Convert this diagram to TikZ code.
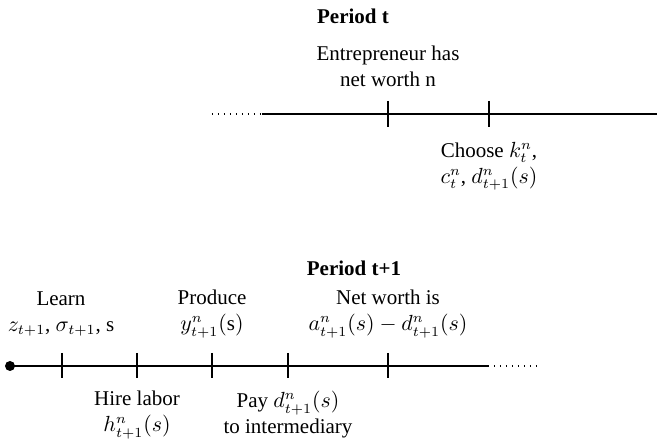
\documentclass[tikz,border=0pt]{standalone}
\usepackage{fontspec}
\setmainfont{Liberation Serif}
\usetikzlibrary{calc}
\begin{document}
\begin{tikzpicture}[x=0.5pt,y=-0.5pt,
  lbl/.style={align=center,inner sep=0pt,font=\fontsize{10.5}{13}\selectfont},
  ttl/.style={inner sep=0pt,font=\fontsize{10.5}{13}\selectfont\bfseries},
  tl/.style={line width=0.75pt},
  tick/.style={line width=0.6pt},
  dots/.style={line width=0.6pt,dash pattern=on 0.6pt off 2.4pt}]
\useasboundingbox (0,0) rectangle (661,442);
% ---- Period t ----
\node[ttl] (pt) at (353,16) {Period t};
\coordinate (a0) at (212,114);
\coordinate (a1) at (262,114);
\coordinate (ta) at (388,114);
\coordinate (tb) at (489,114);
\coordinate (a2) at (656,114);
\coordinate (a3) at (668,114);
\draw[dots] (a0) -- (a1);
\draw[tl] (a1) -- (a2);
\draw[dots] (a2) -- (a3);
\foreach \c in {ta,tb} \draw[tick] ($(\c)+(0,-13)$) -- ($(\c)+(0,13)$);
\node[lbl] (en) at (388,66) {Entrepreneur has\\net worth n};
\node[lbl] (ch) at (489,166) {Choose $k_t^n$,\\$c_t^n$, $d_{t+1}^n(s)$};
% ---- Period t+1 ----
\node[ttl] (pt1) at (354,268) {Period t+1};
\coordinate (b0) at (10,366);
\coordinate (b1) at (62,366);
\coordinate (b2) at (137,366);
\coordinate (b3) at (212,366);
\coordinate (b4) at (288,366);
\coordinate (b5) at (388,366);
\coordinate (b6) at (488,366);
\coordinate (b7) at (537,366);
\fill (b0) circle (5);
\draw[tl] (b0) -- (b6);
\draw[dots] (b6) -- (b7);
\foreach \c in {b1,b2,b3,b4,b5} \draw[tick] ($(\c)+(0,-13)$) -- ($(\c)+(0,12)$);
\node[lbl] (le) at (61,314) {Learn\\$z_{t+1}$, $\sigma_{t+1}$, s};
\node[lbl] (pr) at (212,314) {Produce\\$y^n_{t+1}(\mathrm{s})$};
\node[lbl] (nw) at (388,314) {Net worth is\\$a^n_{t+1}(s)-d^n_{t+1}(s)$};
\node[lbl] (hl) at (137,415) {Hire labor\\$h^n_{t+1}(s)$};
\node[lbl] (pa) at (288,415) {Pay $d^n_{t+1}(s)$\\to intermediary};
\end{tikzpicture}
\end{document}
